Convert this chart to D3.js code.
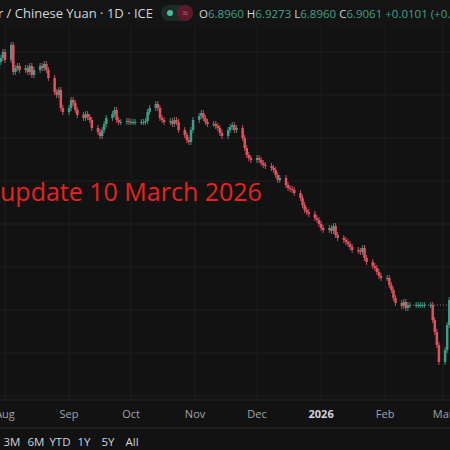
<!DOCTYPE html>
<html>
<head>
  <style>
    body { margin: 0; background: #121212; }
    text { font-family: "Open Sans", "Noto Sans", sans-serif; }
  </style>
</head>
<body>
  <svg id="chart"></svg>
  <script src="https://d3js.org/d3.v7.min.js"></script>
  <script>
    // daily closes, USD/CNH, Jul 28 2025 .. Mar 10 2026 (weekdays)
    const closes = [
      7.170, 7.178, 7.182, 7.188, 7.180,
      7.195, 7.168, 7.172, 7.174, 7.170,
      7.172, 7.168, 7.174, 7.165, 7.170,
      7.174, 7.172, 7.176, 7.170, 7.162,
      7.148, 7.145, 7.150, 7.132, 7.128,
      7.132, 7.140, 7.137, 7.130, 7.125,
      7.122, 7.126, 7.123, 7.120, 7.112,
      7.108, 7.104, 7.110, 7.116, 7.122,
      7.126, 7.130, 7.120, 7.118, 7.118,
      7.119, 7.118, 7.118, 7.118, 7.118,
      7.118, 7.118, 7.119, 7.128, 7.132,
      7.136, 7.132, 7.122, 7.120, 7.118,
      7.119, 7.116, 7.120, 7.118, 7.110,
      7.105, 7.100, 7.098, 7.110, 7.120,
      7.124, 7.127, 7.122, 7.118, 7.116,
      7.116, 7.114, 7.112, 7.107, 7.104,
      7.110, 7.113, 7.115, 7.110, 7.112,
      7.102, 7.092, 7.085, 7.082, 7.080,
      7.082, 7.080, 7.077, 7.075, 7.074,
      7.072, 7.070, 7.065, 7.060, 7.062,
      7.055, 7.052, 7.051, 7.050, 7.047,
      7.042, 7.035, 7.030, 7.028, 7.026,
      7.022, 7.020, 7.016, 7.012, 7.010,
      7.012, 7.009, 7.014, 7.005, 7.002,
      7.000, 6.998, 6.996, 6.993, 6.990,
      6.989, 6.988, 6.992, 6.982, 6.978,
      6.974, 6.972, 6.968, 6.964, 6.962,
      6.962, 6.955, 6.950, 6.942, 6.937,
      6.934, 6.938, 6.932, 6.935, 6.935,
      6.935, 6.935, 6.935, 6.935, 6.935,
      6.935, 6.920, 6.908, 6.895, 6.878,
      6.890, 6.915, 6.940, 6.945, 6.940,
      6.938, 6.936
    ];
    const firstOpen = 7.160;
    const gridPrices = [7.188, 7.145, 7.102, 7.059, 7.016, 6.973, 6.930, 6.887, 6.844];
    const monthTicks = [
      ["2025-08-01", "Aug"], ["2025-09-01", "Sep"], ["2025-10-01", "Oct"],
      ["2025-11-01", "Nov"], ["2025-12-01", "Dec"], ["2026-01-01", "2026"],
      ["2026-02-01", "Feb"], ["2026-03-01", "Mar"]
    ];
    const rangeButtons = ["3M", "6M", "YTD", "1Y", "5Y", "All"];
    const header = "U.S. Dollar / Chinese Yuan \u00b7 1D \u00b7 ICE";
    const ohlc = [["O", "6.8960"], ["H", "6.9273"], ["L", "6.8960"], ["C", "6.9061"]];
    const change = "+0.0101 (+0.15%)";

    const W = 450, H = 450;
    const green = "#3f9c86", red = "#e0525d";
    const parse = d3.timeParse("%Y-%m-%d");

    const days = d3.timeDay.range(parse("2025-07-28"), parse("2026-03-11"))
      .filter(d => d.getDay() !== 0 && d.getDay() !== 6);
    const data = closes.map((c, i) => ({
      date: days[i],
      open: i === 0 ? firstOpen : closes[i - 1],
      close: c
    }));

    const svg = d3.select("#chart").attr("width", W).attr("height", H)
      .style("display", "block");
    svg.append("rect").attr("width", W).attr("height", H).attr("fill", "#121212");

    const x = d3.scaleTime()
      .domain([parse("2025-08-01"), parse("2026-03-01")])
      .range([5, 443]);
    const y = d3.scaleLinear().domain([7.20, 6.83]).range([40, 410]);

    svg.append("defs").append("clipPath").attr("id", "plot")
      .append("rect").attr("x", 0).attr("y", 26).attr("width", W).attr("height", 374);

    // grid
    svg.append("g").selectAll("line").data(gridPrices).join("line")
      .attr("x1", 0).attr("x2", W)
      .attr("y1", d => y(d)).attr("y2", d => y(d))
      .attr("stroke", "#1e1e1e");
    svg.append("g").selectAll("line").data(monthTicks).join("line")
      .attr("x1", d => x(parse(d[0]))).attr("x2", d => x(parse(d[0])))
      .attr("y1", 26).attr("y2", 400)
      .attr("stroke", "#1e1e1e");

    const plot = svg.append("g").attr("clip-path", "url(#plot)");

    // dotted previous close line
    plot.append("line")
      .attr("x1", x(parse("2026-02-13"))).attr("x2", W)
      .attr("y1", y(6.935)).attr("y2", y(6.935))
      .attr("stroke", "#8a8a8a").attr("stroke-dasharray", "1,2");

    const candles = plot.append("g").selectAll("g").data(data).join("g")
      .attr("transform", d => `translate(${x(d.date)},0)`);
    const col = d => d.close >= d.open ? green : red;
    candles.append("line")
      .attr("y1", d => y(Math.max(d.open, d.close)) - 3)
      .attr("y2", d => y(Math.min(d.open, d.close)) + 3)
      .attr("stroke", col).attr("stroke-width", 0.9);
    candles.append("rect")
      .attr("x", -1.2).attr("width", 2.5)
      .attr("y", d => y(Math.max(d.open, d.close)))
      .attr("height", d => Math.max(1, Math.abs(y(d.open) - y(d.close))))
      .attr("fill", col);

    // overlay note
    svg.append("text").attr("x", 0).attr("y", 201)
      .attr("fill", "#e8231f").attr("font-size", 25)
      .text("update 10 March 2026");

    // header bar
    svg.append("rect").attr("width", W).attr("height", 26).attr("fill", "#141414");
    svg.append("text").attr("x", 153).attr("y", 18).attr("text-anchor", "end")
      .attr("fill", "#d1d4dc").attr("font-size", 13).text(header);
    svg.append("rect").attr("x", 161).attr("y", 5).attr("width", 32).attr("height", 16)
      .attr("rx", 8).attr("fill", "#1e2a27");
    svg.append("circle").attr("cx", 170).attr("cy", 13).attr("r", 3).attr("fill", "#3fbf9a");
    svg.append("rect").attr("x", 177).attr("y", 5).attr("width", 16).attr("height", 16)
      .attr("rx", 8).attr("fill", "#5a1a2a");
    svg.append("text").attr("x", 185).attr("y", 17).attr("text-anchor", "middle")
      .attr("fill", "#e05070").attr("font-size", 11).text("\u2248");
    const hdr = svg.append("text").attr("x", 199).attr("y", 18).attr("font-size", 11.5);
    ohlc.forEach(([k, v]) => {
      hdr.append("tspan").attr("fill", "#d1d4dc").text(k);
      hdr.append("tspan").attr("fill", "#3fa38b").text(v + " ");
    });
    hdr.append("tspan").attr("fill", "#3fa38b").text(change);

    // time axis
    svg.append("line").attr("x1", 0).attr("x2", W).attr("y1", 400).attr("y2", 400)
      .attr("stroke", "#262626");
    svg.append("g").selectAll("text").data(monthTicks).join("text")
      .attr("x", d => x(parse(d[0]))).attr("y", 418)
      .attr("text-anchor", "middle").attr("font-size", 11)
      .attr("font-weight", d => d[1] === "2026" ? "bold" : "normal")
      .attr("fill", d => d[1] === "2026" ? "#d1d4dc" : "#a0a3ab")
      .text(d => d[1]);
    svg.append("line").attr("x1", 0).attr("x2", W).attr("y1", 428).attr("y2", 428)
      .attr("stroke", "#2a2a2a");

    // range buttons
    const bx = d3.scalePoint().domain(rangeButtons).range([12, 132]);
    svg.append("g").selectAll("text").data(rangeButtons).join("text")
      .attr("x", d => bx(d)).attr("y", 446).attr("text-anchor", "middle")
      .attr("font-size", 11.5).attr("fill", "#d1d4dc").text(d => d);
  </script>
</body>
</html>
